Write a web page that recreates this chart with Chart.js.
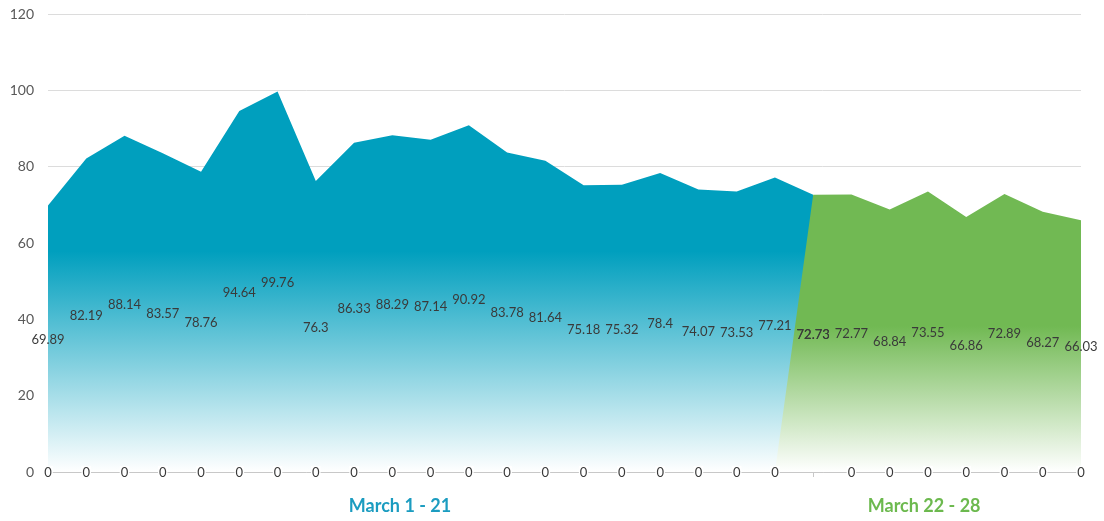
<!DOCTYPE html>
<html>
<head>
<meta charset="utf-8">
<script src="https://cdn.jsdelivr.net/npm/chart.js@4/dist/chart.umd.min.js"></script>
<style>
  html, body { margin: 0; padding: 0; background: #fff; }
  #wrap { width: 1104px; height: 521px; position: relative; }
</style>
</head>
<body>
<div id="wrap"><canvas id="chartCanvas"></canvas></div>
<script>
const categories = ["Mar 1", "Mar 2", "Mar 3", "Mar 4", "Mar 5", "Mar 6", "Mar 7", "Mar 8", "Mar 9", "Mar 10",
  "Mar 11", "Mar 12", "Mar 13", "Mar 14", "Mar 15", "Mar 16", "Mar 17", "Mar 18", "Mar 19", "Mar 20",
  "Mar 21", "Mar 22", "Mar 23", "Mar 24", "Mar 25", "Mar 26", "Mar 27", "Mar 28"];

const firstPeriod = [69.89, 82.19, 88.14, 83.57, 78.76, 94.64, 99.76, 76.3, 86.33, 88.29,
  87.14, 90.92, 83.78, 81.64, 75.18, 75.32, 78.4, 74.07, 73.53, 77.21,
  72.73, 0, 0, 0, 0, 0, 0, 0];

const secondPeriod = [0, 0, 0, 0, 0, 0, 0, 0, 0, 0,
  0, 0, 0, 0, 0, 0, 0, 0, 0, 0,
  72.73, 72.77, 68.84, 73.55, 66.86, 72.89, 68.27, 66.03];

const yTicks = [0, 20, 40, 60, 80, 100, 120];

const groupLabels = ["March 1 - 21", "March 22 - 28"];
const groupCenters = [9.2, 22.9];
const groupColors = ["#1b9cc0", "#6cb94e"];

function fadeFill(color, solidStop) {
  return function (context) {
    const chart = context.chart;
    const area = chart.chartArea;
    if (!area) return color;
    const data = chart.data.datasets[context.datasetIndex].data;
    const top = chart.scales.y.getPixelForValue(Math.max(...data));
    const g = chart.ctx.createLinearGradient(0, top, 0, area.bottom);
    g.addColorStop(0, color);
    g.addColorStop(solidStop, color);
    g.addColorStop(1, "rgba(255,255,255,1)");
    return g;
  };
}

const valueLabels = {
  id: "valueLabels",
  afterDatasetsDraw(chart) {
    const ctx = chart.ctx;
    const y = chart.scales.y;
    ctx.save();
    ctx.font = "13px Lato";
    ctx.textAlign = "center";
    ctx.textBaseline = "middle";
    chart.data.datasets.forEach((ds, i) => {
      const meta = chart.getDatasetMeta(i);
      ds.data.forEach((v, j) => {
        const x = meta.data[j].x;
        const py = y.getPixelForValue(v / 2);
        const text = String(v);
        if (v === 0) {
          const w = ctx.measureText(text).width;
          ctx.fillStyle = "#fff";
          ctx.fillRect(x - w / 2 - 1, py - 6, w + 2, 12);
        }
        ctx.fillStyle = "#3a3a3a";
        ctx.fillText(text, x, py + 1);
      });
    });
    ctx.restore();
  }
};

const groupTitles = {
  id: "groupTitles",
  afterDraw(chart) {
    const ctx = chart.ctx;
    const x = chart.scales.x;
    ctx.save();
    ctx.font = "bold 18px Lato";
    ctx.textAlign = "center";
    ctx.textBaseline = "middle";
    groupLabels.forEach((t, i) => {
      ctx.fillStyle = groupColors[i];
      ctx.fillText(t, x.getPixelForValue(groupCenters[i]), 506);
    });
    ctx.restore();
  }
};

const ctx = document.getElementById("chartCanvas").getContext("2d");

new Chart(ctx, {
  type: "line",
  data: {
    labels: categories,
    datasets: [
      {
        label: "March 1 - 21",
        data: firstPeriod,
        fill: "origin",
        backgroundColor: fadeFill("#009fbe", 0.42),
        borderWidth: 0,
        pointRadius: 0,
        tension: 0,
        order: 2
      },
      {
        label: "March 22 - 28",
        data: secondPeriod,
        fill: "origin",
        backgroundColor: fadeFill("#71b953", 0.48),
        borderWidth: 0,
        pointRadius: 0,
        tension: 0,
        order: 1
      }
    ]
  },
  options: {
    responsive: true,
    maintainAspectRatio: false,
    animation: false,
    layout: { padding: { top: 13, right: 23, left: 0, bottom: 0 } },
    plugins: {
      legend: { display: false },
      tooltip: { enabled: false }
    },
    scales: {
      x: {
        offset: false,
        ticks: { display: false },
        grid: { drawOnChartArea: false, drawTicks: true, tickLength: 5, color: "#c8c8c8" },
        border: { display: true, color: "#c8c8c8" },
        afterFit(scale) { scale.height = 49; }
      },
      y: {
        min: 0,
        max: 120,
        afterBuildTicks(scale) { scale.ticks = yTicks.map(v => ({ value: v })); },
        ticks: { color: "#595959", font: { family: "Lato", size: 14, lineHeight: 0.05 }, padding: 14 },
        grid: { color: "#dcdcdc", drawTicks: false },
        border: { display: false },
        afterFit(scale) { scale.width = 48; }
      }
    }
  },
  plugins: [valueLabels, groupTitles]
});
</script>
</body>
</html>
